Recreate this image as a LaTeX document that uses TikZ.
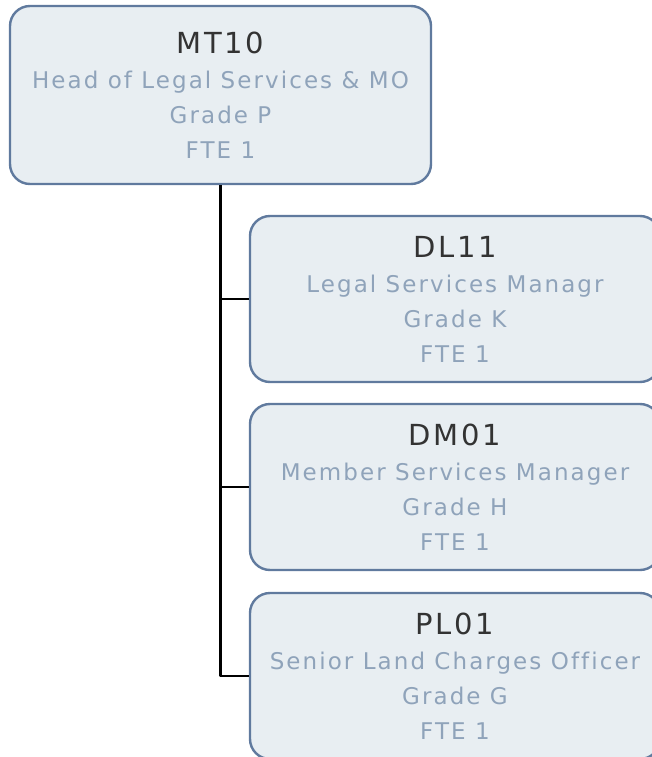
\documentclass[tikz,border=0pt]{standalone}
\usepackage{fontspec}
\setmainfont{DejaVu Sans}[LetterSpace=9, Ligatures=NoCommon]
\usepackage{tikz}
\usetikzlibrary{positioning}
\definecolor{boxline}{RGB}{96,122,158}
\definecolor{boxfill}{RGB}{232,238,242}
\definecolor{subtext}{RGB}{143,163,186}
\definecolor{titletext}{RGB}{51,51,51}
\tikzset{
  post/.style={draw=boxline, fill=boxfill, line width=2.4pt, rounded corners=20pt,
    align=center, inner sep=0pt, font=\fontsize{23}{35}\selectfont, text=subtext},
  link/.style={draw=black, line width=2.2pt}
}
\newcommand{\posttitle}[1]{{\fontsize{29}{35}\selectfont\color{titletext}#1}}

\begin{document}
\begin{tikzpicture}[line join=round]
\useasboundingbox (0pt,0pt) rectangle (651pt,-757pt);
%%
\node (MT10) at (220.5pt,-95pt) [post, minimum width=421pt, minimum height=178pt]
  {\posttitle{MT10}\\Head of Legal Services \& MO\\Grade P\\FTE 1};
\node (DL11) at (455pt,-299pt) [post, minimum width=410pt, minimum height=166pt]
  {\posttitle{DL11}\\Legal Services Managr\\Grade K\\FTE 1};
\node (DM01) at (455pt,-487pt) [post, minimum width=410pt, minimum height=166pt]
  {\posttitle{DM01}\\Member Services Manager\\Grade H\\FTE 1};
\node (PL01) at (455pt,-676pt) [post, minimum width=410pt, minimum height=166pt]
  {\posttitle{PL01}\\Senior Land Charges Officer\\Grade G\\FTE 1};
%
\draw [link] (MT10.south) |- (DL11.west);
\draw [link] (MT10.south) |- (DM01.west);
\draw [link] (MT10.south) |- (PL01.west);
%
\end{tikzpicture}
\end{document}
